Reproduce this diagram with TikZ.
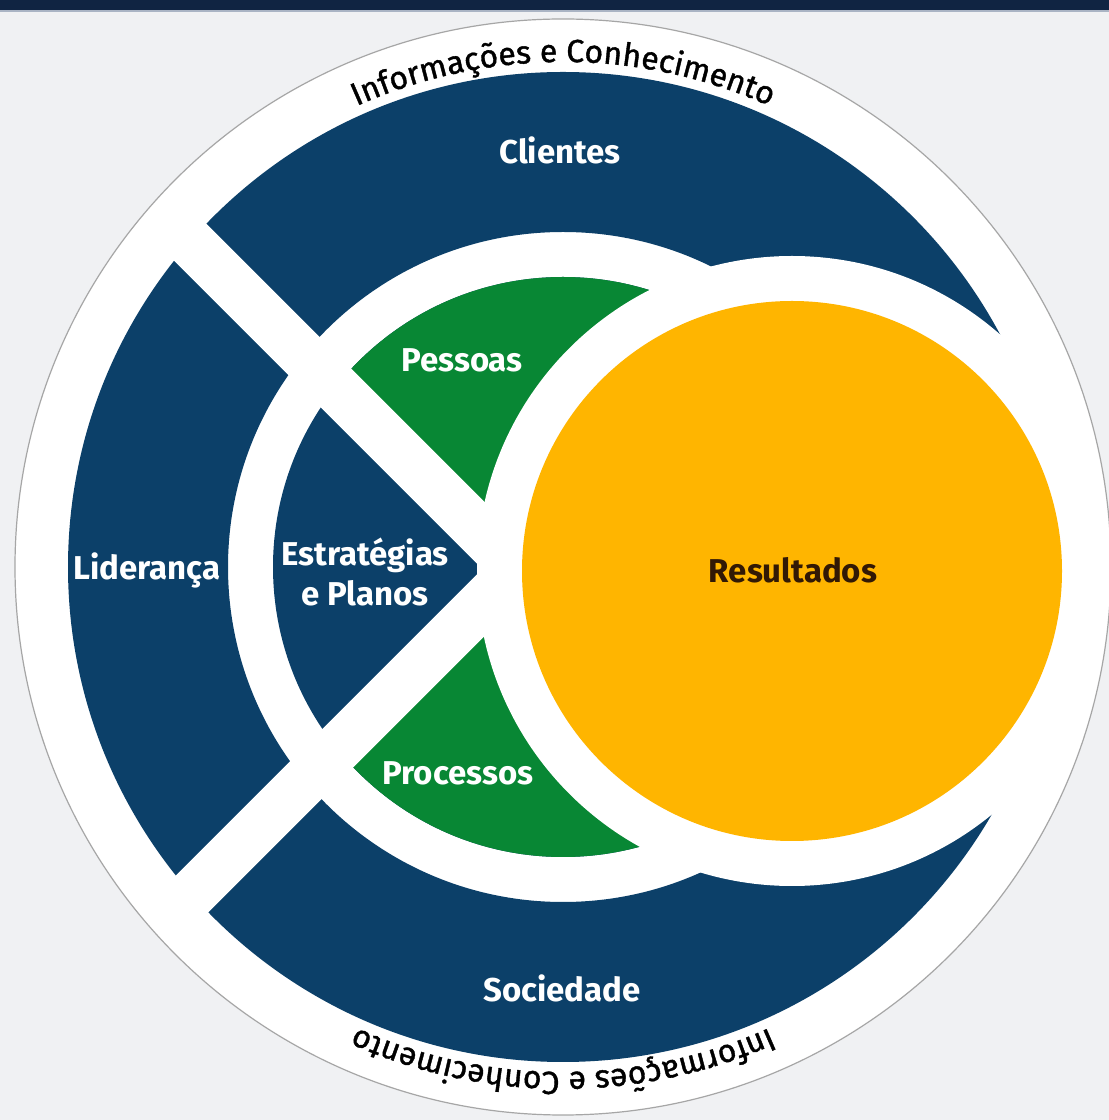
\documentclass[tikz,border=0pt]{standalone}
\usepackage{fontspec}
\setmainfont{Fira Sans}
\newfontfamily\ringfont[FakeBold=1.2]{Fira Sans}
\usetikzlibrary{decorations.text}
\definecolor{MyBack}{RGB}{240,241,243}
\definecolor{MyTop}{RGB}{16,36,66}
\definecolor{MyTopLine}{RGB}{170,180,196}
\definecolor{MyNavy}{RGB}{12,64,105}
\definecolor{MyGreen}{RGB}{8,135,52}
\definecolor{MyYellow}{RGB}{255,181,0}
\definecolor{MyBrown}{RGB}{50,25,5}

\begin{document}
\begin{tikzpicture}[x=1pt,y=1pt,
    areatext/.style={text=white,font=\fontsize{33}{40}\selectfont\bfseries},
    ringtext/.style={decorate,decoration={text along path,text align=center,
        text={|\ringfont\fontsize{32}{36}\selectfont|Informações e Conhecimento}}}]
                \useasboundingbox (0,0) rectangle (1109,1120);
                \fill[MyBack] (0,0) rectangle (1109,1120);
                \fill[MyTop] (0,1110) rectangle (1109,1120);
                \draw[MyTopLine, line width=1.5pt] (0,1109) -- (1109,1109);

                \coordinate (O) at (563,553);
                \coordinate (R) at (792,549);
                \coordinate (X) at (517,551);

                % outer disc and navy ring
                \fill[white] (O) circle (548);
                \fill[MyNavy, even odd rule] (O) circle (495) (O) circle (335);

                % inner disc with the two green wedges
                \begin{scope}
                    \clip (O) circle (290);
                    \fill[MyNavy] (O) circle (290);
                    \fill[MyGreen] (X) -- ++(-600,600) -- ++(1200,0) -- cycle;
                    \fill[MyGreen] (X) -- ++(-600,-600) -- ++(1200,0) -- cycle;
                \end{scope}

                % white cross, left arms only
                \begin{scope}
                    \clip (O) circle (500);
                    \draw[white, line width=49pt, line join=miter] (X) ++(-500,500) -- (X) -- ++(-500,-500);
                \end{scope}

                % results disc with its white rim
                \fill[white] (R) circle (315);
                \fill[MyYellow] (R) circle (270);
                \draw[gray!70, line width=1.2pt] (O) circle (548);

                \path[ringtext] (O) ++(150:505) arc[start angle=150, end angle=30, radius=505];
                \path[ringtext] (O) ++(-30:505) arc[start angle=-30, end angle=-150, radius=505];

                \node[areatext] (clientes) at (560,970) {Clientes};
                \node[areatext] (lideranca) at (147,550) {Liderança};
                \node[areatext, align=center] (estrategias) at (365,548) {Estratégias\\e Planos};
                \node[areatext] (pessoas) at (462,760) {Pessoas};
                \node[areatext] (processos) at (458,347) {Processos};
                \node[areatext] (sociedade) at (562,132) {Sociedade};
                \node[areatext, text=MyBrown] (resultados) at (793,550) {Resultados};
\end{tikzpicture}
\end{document}
